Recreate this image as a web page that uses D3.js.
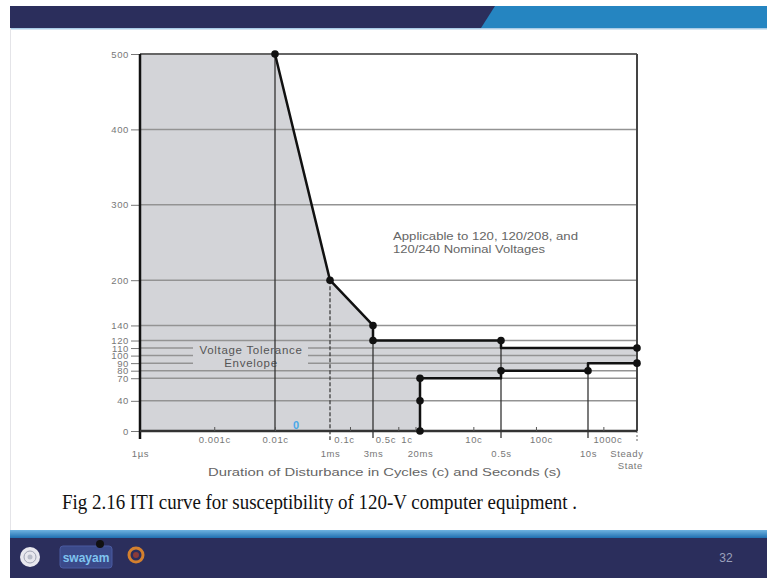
<!DOCTYPE html>
<html>
<head>
<meta charset="utf-8">
<script src="https://cdn.jsdelivr.net/npm/d3@7"></script>
<style>
  body { margin: 0; background: #fff; }
  svg text { font-family: "Liberation Sans", Arial, sans-serif; }
</style>
</head>
<body>
<div id="chart"></div>
<script>
// ITI curve, values (volts in %, time in seconds)
var CYCLE = 1 / 60;
var STEADY = 51; // "Steady State" sits past 1000c

var yTicks = [0, 40, 70, 80, 90, 100, 110, 120, 140, 200, 300, 400, 500];

var cycleTicks = [0.001, 0.01, 0.1, 0.5, 1, 10, 100, 1000];
var cycleLabels = ["0.001c", "0.01c", "0.1c", "0.5c", "1c", "10c", "100c", "1000c"];

var timeTicks = [1e-6, 1e-3, 3e-3, 0.02, 0.5, 10, STEADY];
var timeLabels = ["1\u00b5s", "1ms", "3ms", "20ms", "0.5s", "10s", "Steady"];

// overvoltage boundary
var upperT = [0.01 * CYCLE, 1e-3, 3e-3, 3e-3, 0.5, 0.5, STEADY];
var upperV = [500, 200, 140, 120, 120, 110, 110];
var upperDot = [1, 1, 1, 1, 1, 0, 1];

// undervoltage boundary
var lowerT = [0.02, 0.02, 0.02, 0.5, 0.5, 10, 10, STEADY];
var lowerV = [0, 40, 70, 70, 80, 80, 90, 90];
var lowerDot = [1, 1, 1, 0, 1, 1, 0, 1];

var width = 767, height = 578;

var svg = d3.select("#chart").append("svg")
  .attr("width", width)
  .attr("height", height);

// ---- slide chrome ----
svg.append("rect").attr("x", 10).attr("y", 6).attr("width", width - 10).attr("height", 22).attr("fill", "#2b2e5c");
svg.append("path").attr("d", "M495,6 L767,6 L767,28 L481,28 Z").attr("fill", "#2585c1");
svg.append("rect").attr("x", 10).attr("y", 28).attr("width", width - 10).attr("height", 1.5).attr("fill", "#a9cbe6");
svg.append("line").attr("x1", 10.5).attr("x2", 10.5).attr("y1", 28).attr("y2", 530).attr("stroke", "#e4e4e8");

var footGrad = svg.append("defs").append("linearGradient").attr("id", "foot").attr("x1", 0).attr("x2", 0).attr("y1", 0).attr("y2", 1);
footGrad.append("stop").attr("offset", "0%").attr("stop-color", "#6fb3e0");
footGrad.append("stop").attr("offset", "100%").attr("stop-color", "#1f6fb0");
svg.append("rect").attr("x", 10).attr("y", 530).attr("width", width - 10).attr("height", 8).attr("fill", "url(#foot)");
svg.append("rect").attr("x", 10).attr("y", 538).attr("width", width - 10).attr("height", 40).attr("fill", "#2b2e5c");

// footer logos (rough)
svg.append("circle").attr("cx", 30).attr("cy", 557).attr("r", 10).attr("fill", "#e8e8ee");
svg.append("circle").attr("cx", 30).attr("cy", 557).attr("r", 6).attr("fill", "none").attr("stroke", "#a0a4b4").attr("stroke-width", 1);
svg.append("circle").attr("cx", 30).attr("cy", 557).attr("r", 2.5).attr("fill", "#b8bcc8");
svg.append("rect").attr("x", 60).attr("y", 546).attr("width", 52).attr("height", 22).attr("rx", 3).attr("fill", "#3b4a8a").attr("stroke", "#4a5aa0");
svg.append("text").attr("x", 86).attr("y", 562).attr("text-anchor", "middle")
  .attr("font-size", 12).attr("font-weight", "bold").attr("fill", "#7fc4f0").text("swayam");
svg.append("circle").attr("cx", 100).attr("cy", 544).attr("r", 4).attr("fill", "#111");
svg.append("circle").attr("cx", 136).attr("cy", 555).attr("r", 7).attr("fill", "none").attr("stroke", "#d4802e").attr("stroke-width", 3);
svg.append("circle").attr("cx", 136).attr("cy", 555).attr("r", 3).attr("fill", "#8a3a3a");
svg.append("text").attr("x", 726).attr("y", 562).attr("text-anchor", "middle")
  .attr("font-size", 12).attr("fill", "#9aa0bb").text("32");

// caption
svg.append("text")
  .attr("x", 62).attr("y", 509)
  .attr("textLength", 515).attr("lengthAdjust", "spacingAndGlyphs")
  .style("font-family", "'Liberation Serif', 'Times New Roman', serif")
  .attr("font-size", 21).attr("fill", "#111")
  .text("Fig 2.16  ITI curve for susceptibility of 120-V computer equipment .");

// ---- chart ----
var plot = {left: 140, right: 637, top: 54, bottom: 431};

// the figure is schematic: log spacing between the labelled instants
var x = d3.scaleLog()
  .domain([1e-6, 0.01 * CYCLE, 1e-3, 3e-3, 0.02, 0.5, 10, STEADY])
  .range([plot.left, 275, 330, 373, 420, 501, 588, plot.right]);

var y = d3.scaleLinear()
  .domain([0, 500])
  .range([plot.bottom, plot.top]);

var g = svg.append("g");

// tolerance envelope (grey)
var envT = [1e-6, 1e-6].concat(upperT, lowerT.slice().reverse());
var envV = [0, 500].concat(upperV, lowerV.slice().reverse());
var envPts = envT.map(function(t, i) { return [x(t), y(envV[i])]; });
g.append("path")
  .attr("d", d3.line()(envPts) + "Z")
  .attr("fill", "#d3d4d8");

// horizontal grid
g.selectAll(".hgrid").data(yTicks.filter(function(d) { return d > 0; }))
  .enter().append("line")
  .attr("class", "hgrid")
  .attr("x1", plot.left).attr("x2", plot.right)
  .attr("y1", function(d) { return y(d); }).attr("y2", function(d) { return y(d); })
  .attr("stroke", function(d) { return d === 500 ? "#666" : "#939393"; })
  .attr("stroke-width", function(d) { return d === 500 ? 2 : 1.5; });

// label box cuts the grid lines
g.append("rect")
  .attr("x", 193).attr("y", y(111.5)).attr("width", 115).attr("height", y(82) - y(111.5))
  .attr("fill", "#d3d4d8");
g.append("text").attr("x", 251).attr("y", y(102.5)).attr("text-anchor", "middle")
  .attr("font-size", 11.5).attr("letter-spacing", 0.7).attr("fill", "#555").text("Voltage Tolerance");
g.append("text").attr("x", 251).attr("y", y(85)).attr("text-anchor", "middle")
  .attr("font-size", 11.5).attr("letter-spacing", 0.7).attr("fill", "#555").text("Envelope");

// y axis
var yAxis = d3.axisLeft(y).tickValues(yTicks).tickSize(8).tickPadding(2);
var ya = g.append("g").attr("transform", "translate(" + (plot.left - 1) + ",0)").call(yAxis);
ya.select(".domain").remove();
ya.selectAll(".tick line").attr("stroke", "#777").attr("stroke-width", 1);
ya.selectAll(".tick text").attr("font-size", 9.5).attr("letter-spacing", 0.6).attr("fill", "#777")
  .style("font-family", "'Liberation Sans', Arial, sans-serif");

// vertical reference lines
g.append("line").attr("x1", x(0.01 * CYCLE)).attr("x2", x(0.01 * CYCLE))
  .attr("y1", y(500)).attr("y2", y(0)).attr("stroke", "#333").attr("stroke-width", 1.3);
g.append("line").attr("x1", x(1e-3)).attr("x2", x(1e-3))
  .attr("y1", y(200)).attr("y2", y(0) + 9).attr("stroke", "#333").attr("stroke-width", 1.2)
  .attr("stroke-dasharray", "4,2");
[[3e-3, 140], [0.5, 120], [10, 80]].forEach(function(d) {
  g.append("line").attr("x1", x(d[0])).attr("x2", x(d[0]))
    .attr("y1", y(d[1])).attr("y2", y(0) + 7).attr("stroke", "#333").attr("stroke-width", 1.3);
});

// frame
g.append("line").attr("x1", plot.left).attr("x2", plot.left).attr("y1", plot.top).attr("y2", plot.bottom + 8)
  .attr("stroke", "#111").attr("stroke-width", 2.5);
g.append("line").attr("x1", plot.right).attr("x2", plot.right).attr("y1", plot.top).attr("y2", plot.bottom)
  .attr("stroke", "#444").attr("stroke-width", 2);
g.append("line").attr("x1", plot.right).attr("x2", plot.right).attr("y1", plot.bottom).attr("y2", plot.bottom + 12)
  .attr("stroke", "#666").attr("stroke-width", 1).attr("stroke-dasharray", "2,2");
g.append("line").attr("x1", plot.left).attr("x2", plot.right).attr("y1", plot.bottom).attr("y2", plot.bottom)
  .attr("stroke", "#333").attr("stroke-width", 2.5);

// cycle ticks along the bottom
var cx = d3.axisBottom(x).tickValues(cycleTicks.map(function(c) { return c * CYCLE; }))
  .tickSize(-4).tickFormat(function(d, i) { return cycleLabels[i]; }).tickPadding(5);
var ca = g.append("g").attr("transform", "translate(0," + plot.bottom + ")").call(cx);
ca.select(".domain").remove();
ca.selectAll(".tick line").attr("stroke", "#555");
ca.selectAll(".tick text").attr("font-size", 9.5).attr("letter-spacing", 0.6).attr("fill", "#777")
  .style("font-family", "'Liberation Sans', Arial, sans-serif")
  .attr("dx", function(d, i) {
    var l = cycleLabels[i];
    if (l === "0.1c") return -6;
    if (l === "0.5c") return -13;
    if (l === "1c") return -9;
    if (l === "100c") return 5;
    if (l === "1000c") return 4;
    return 0;
  });

// time labels
var ta = g.append("g").attr("transform", "translate(0," + plot.bottom + ")")
  .call(d3.axisBottom(x).tickValues(timeTicks).tickSize(0).tickPadding(19)
    .tickFormat(function(d, i) { return timeLabels[i]; }));
ta.select(".domain").remove();
ta.selectAll(".tick text").attr("font-size", 9.5).attr("letter-spacing", 0.6).attr("fill", "#777")
  .style("font-family", "'Liberation Sans', Arial, sans-serif")
  .attr("text-anchor", function(d, i) { return timeLabels[i] === "Steady" ? "end" : "middle"; })
  .attr("dx", function(d, i) { return timeLabels[i] === "Steady" ? 6 : 0; });
g.append("text").attr("x", plot.right + 6).attr("y", plot.bottom + 38).attr("text-anchor", "end")
  .attr("font-size", 9.5).attr("letter-spacing", 0.6).attr("fill", "#777").text("State");

g.append("text").attr("x", (plot.left + plot.right) / 2 - 4).attr("y", plot.bottom + 45)
  .attr("text-anchor", "middle").attr("textLength", 353).attr("lengthAdjust", "spacingAndGlyphs")
  .attr("font-size", 11).attr("fill", "#666")
  .text("Duration of Disturbance in Cycles (c) and Seconds (s)");

// note
g.append("text").attr("x", 393).attr("y", 240).attr("font-size", 10).attr("fill", "#666")
  .attr("textLength", 185).attr("lengthAdjust", "spacingAndGlyphs")
  .text("Applicable to 120, 120/208, and");
g.append("text").attr("x", 393).attr("y", 253).attr("font-size", 10).attr("fill", "#666")
  .attr("textLength", 152).attr("lengthAdjust", "spacingAndGlyphs")
  .text("120/240 Nominal Voltages");

// curves
var line = d3.line().x(function(d) { return x(d[0]); }).y(function(d) { return y(d[1]); });
[[upperT, upperV, upperDot], [lowerT, lowerV, lowerDot]].forEach(function(c) {
  var pts = c[0].map(function(t, i) { return [t, c[1][i], c[2][i]]; });
  g.append("path").attr("d", line(pts)).attr("fill", "none")
    .attr("stroke", "#111").attr("stroke-width", 2.5).attr("stroke-linejoin", "round");
  g.selectAll(null).data(pts.filter(function(p) { return p[2]; }))
    .enter().append("circle")
    .attr("cx", function(p) { return x(p[0]); })
    .attr("cy", function(p) { return y(p[1]); })
    .attr("r", 3.8).attr("fill", "#111");
});

// stray cursor mark on the slide
g.append("text").attr("x", 296).attr("y", 429).attr("text-anchor", "middle")
  .attr("font-size", 11).attr("font-weight", "bold").attr("fill", "#4aa8e8").text("0");
</script>
</body>
</html>
